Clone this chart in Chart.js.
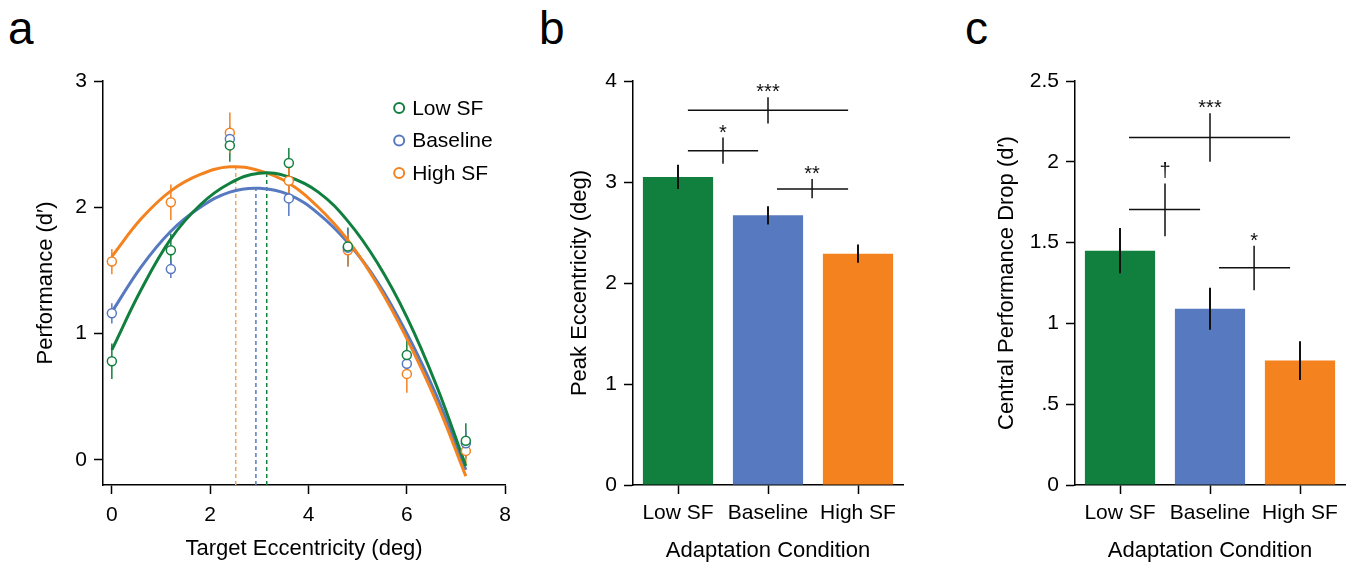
<!DOCTYPE html>
<html>
<head>
<meta charset="utf-8">
<script src="https://cdn.jsdelivr.net/npm/chart.js@4.4.0/dist/chart.umd.min.js"></script>
<style>
body { margin: 0; background: #fff; width: 1351px; height: 565px; overflow: hidden; position: relative;
       font-family: 'Liberation Sans', Arial, sans-serif; }
.panel { position: absolute; top: 0; height: 565px; }
.letter { position: absolute; top: 5px; font-size: 46px; line-height: 1; color: #000; }
</style>
</head>
<body>
<div class="letter" style="left:8px">a</div>
<div class="letter" style="left:539px">b</div>
<div class="letter" style="left:965px">c</div>
<div class="panel" style="left:0;width:520px"><canvas id="chartA"></canvas></div>
<div class="panel" style="left:520px;width:420px"><canvas id="chartB"></canvas></div>
<div class="panel" style="left:940px;width:411px"><canvas id="chartC"></canvas></div>
<script>
// panel a: performance by target eccentricity
var ECC = [0, 1.2, 2.4, 3.6, 4.8, 6, 7.2];
var lowSF = [0.78, 1.66, 2.49, 2.35, 1.69, 0.83, 0.15];
var lowSFErr = [0.14, 0.13, 0.13, 0.12, 0.15, 0.16, 0.14];
var baseline = [1.16, 1.51, 2.54, 2.07, 1.68, 0.76, 0.13];
var baselineErr = [0.08, 0.07, 0.1, 0.14, 0.15, 0.1, 0.1];
var highSF = [1.57, 2.04, 2.59, 2.21, 1.66, 0.68, 0.07];
var highSFErr = [0.1, 0.14, 0.16, 0.12, 0.13, 0.15, 0.1];

// fitted curves
var FIT_X = [0, 0.6, 1.2, 1.8, 2.4, 3.0, 3.6, 4.2, 4.8, 5.4, 6.0, 6.6, 7.2];
var lowSFFit = [0.87, 1.35, 1.75, 2.02, 2.19, 2.27, 2.24, 2.12, 1.89, 1.56, 1.13, 0.59, -0.05];
var baselineFit = [1.17, 1.53, 1.81, 2.00, 2.12, 2.15, 2.10, 1.95, 1.72, 1.41, 1.00, 0.51, -0.08];
var highSFFit = [1.61, 1.91, 2.13, 2.26, 2.32, 2.29, 2.19, 2.00, 1.74, 1.39, 0.96, 0.46, -0.13];
// peak of each fit (green, blue, orange)
var PEAK_X = [3.15, 2.93, 2.52];
var PEAK_Y = [2.27, 2.15, 2.32];

var xTicksA = [0, 2, 4, 6, 8];
var yTicksA = [0, 1, 2, 3];

// panels b and c
var CONDITIONS = ['Low SF', 'Baseline', 'High SF'];
var peakEcc = [3.05, 2.67, 2.29];
var peakEccErr = [0.12, 0.09, 0.09];
var perfDrop = [1.45, 1.09, 0.77];
var perfDropErr = [0.14, 0.13, 0.12];
var yTicksB = [0, 1, 2, 3, 4];
var yLabelsB = ['0', '1', '2', '3', '4'];
var yTicksC = [0, 0.5, 1, 1.5, 2, 2.5];
var yLabelsC = ['0', '.5', '1', '1.5', '2', '2.5'];

// significance marks: [from, to, at, y, lo, hi, label] in category units
var sigB = [
    [0.11, 1.89, 1.0, 3.71, 3.58, 3.84, '***'],
    [0.11, 0.89, 0.5, 3.31, 3.18, 3.44, '*'],
    [1.10, 1.89, 1.49, 2.93, 2.84, 3.03, '**']
];
var sigC = [
    [0.10, 1.89, 1.0, 2.15, 2.0, 2.30, '***'],
    [0.10, 0.89, 0.5, 1.705, 1.54, 1.866, '\u2020'],
    [1.10, 1.89, 1.49, 1.345, 1.205, 1.48, '*']
];

var GREEN = '#11803f';
var BLUE = '#5679c0';
var ORANGE = '#f4821f';
var FONT = "'Liberation Sans', Arial, sans-serif";
var TICK_SIZE = 21;
var TITLE_SIZE = 22;

Chart.defaults.font.family = FONT;
Chart.defaults.color = '#000';
Chart.defaults.animation = false;

function pts(xs, ys) {
    return xs.map(function (x, i) { return { x: x, y: ys[i] }; });
}

function axisGrid() {
    return { display: true, drawOnChartArea: false, drawTicks: true, tickLength: 9, tickColor: '#000', tickWidth: 1.5, offset: false };
}
var axisBorder = { display: true, color: '#000', width: 1.5 };

var pointErrors = {
    id: 'pointErrors',
    beforeDatasetsDraw: function (chart) {
        var ctx = chart.ctx, xs = chart.scales.x, ys = chart.scales.y;
        var sets = [[lowSF, lowSFErr, GREEN], [baseline, baselineErr, BLUE], [highSF, highSFErr, ORANGE]];
        ctx.save();
        ctx.lineWidth = 1.5;
        sets.forEach(function (s) {
            ctx.strokeStyle = s[2];
            ECC.forEach(function (e, i) {
                var px = xs.getPixelForValue(e);
                ctx.beginPath();
                ctx.moveTo(px, ys.getPixelForValue(s[0][i] - s[1][i]));
                ctx.lineTo(px, ys.getPixelForValue(s[0][i] + s[1][i]));
                ctx.stroke();
            });
        });
        ctx.restore();
    },
    afterDraw: function (chart) {
        // legend, top right of the plot
        var ctx = chart.ctx, area = chart.chartArea;
        ctx.save();
        ctx.font = TICK_SIZE + 'px ' + FONT;
        ctx.textBaseline = 'middle';
        for (var i = 0; i < 3; i++) {
            var ds = chart.data.datasets[i];
            var y = area.top + 27 + i * 32.5;
            var x = area.right - 106;
            ctx.beginPath();
            ctx.arc(x, y, 5, 0, Math.PI * 2);
            ctx.fillStyle = '#fff';
            ctx.fill();
            ctx.lineWidth = 2;
            ctx.strokeStyle = ds.borderColor;
            ctx.stroke();
            ctx.fillStyle = '#000';
            ctx.fillText(ds.label, x + 13, y + 1);
        }
        ctx.restore();
    }
};

function barMarks(values, errs, sigs) {
    return {
        id: 'barMarks',
        afterDatasetsDraw: function (chart) {
            var ctx = chart.ctx, xs = chart.scales.x, ys = chart.scales.y;
            ctx.save();
            ctx.strokeStyle = '#111';
            ctx.lineWidth = 2;
            values.forEach(function (v, i) {
                var px = xs.getPixelForValue(i);
                ctx.beginPath();
                ctx.moveTo(px, ys.getPixelForValue(v - errs[i]));
                ctx.lineTo(px, ys.getPixelForValue(v + errs[i]));
                ctx.stroke();
            });
            ctx.lineWidth = 1.5;
            ctx.font = '20px ' + FONT;
            ctx.textAlign = 'center';
            ctx.fillStyle = '#111';
            sigs.forEach(function (s) {
                var y = ys.getPixelForValue(s[3]);
                var xm = xs.getPixelForValue(s[2]);
                ctx.beginPath();
                ctx.moveTo(xs.getPixelForValue(s[0]), y);
                ctx.lineTo(xs.getPixelForValue(s[1]), y);
                ctx.moveTo(xm, ys.getPixelForValue(s[4]));
                ctx.lineTo(xm, ys.getPixelForValue(s[5]));
                ctx.stroke();
                var m = ctx.measureText(s[6]);
                var top = ys.getPixelForValue(s[5]);
                ctx.fillText(s[6], xm, top - 5 - m.actualBoundingBoxDescent);
            });
            ctx.restore();
        }
    };
}

new Chart(document.getElementById('chartA'), {
    type: 'scatter',
    data: {
        datasets: [
            { label: 'Low SF', data: pts(ECC, lowSF), borderColor: GREEN, backgroundColor: '#fff', pointRadius: 4.5, borderWidth: 1.5 },
            { label: 'Baseline', data: pts(ECC, baseline), borderColor: BLUE, backgroundColor: '#fff', pointRadius: 4.5, borderWidth: 1.5 },
            { label: 'High SF', data: pts(ECC, highSF), borderColor: ORANGE, backgroundColor: '#fff', pointRadius: 4.5, borderWidth: 1.5 },
            { label: 'Low SF fit', data: pts(FIT_X, lowSFFit), showLine: true, tension: 0.4, borderColor: GREEN, borderWidth: 3, pointRadius: 0 },
            { label: 'High SF fit', data: pts(FIT_X, highSFFit), showLine: true, tension: 0.4, borderColor: ORANGE, borderWidth: 3, pointRadius: 0 },
            { label: 'Baseline fit', data: pts(FIT_X, baselineFit), showLine: true, tension: 0.4, borderColor: BLUE, borderWidth: 3, pointRadius: 0 },
            { label: 'Low SF peak', data: [{ x: PEAK_X[0], y: -0.2 }, { x: PEAK_X[0], y: PEAK_Y[0] }], showLine: true, borderColor: GREEN, borderWidth: 1.5, borderDash: [4, 3], pointRadius: 0 },
            { label: 'Baseline peak', data: [{ x: PEAK_X[1], y: -0.2 }, { x: PEAK_X[1], y: PEAK_Y[1] }], showLine: true, borderColor: BLUE, borderWidth: 1.5, borderDash: [4, 3], pointRadius: 0 },
            { label: 'High SF peak', data: [{ x: PEAK_X[2], y: -0.2 }, { x: PEAK_X[2], y: PEAK_Y[2] }], showLine: true, borderColor: '#f6a25a', borderWidth: 1.5, borderDash: [4, 3], pointRadius: 0 }
        ]
    },
    options: {
        responsive: true,
        maintainAspectRatio: false,
        layout: { padding: { left: 0, right: 14, top: 81, bottom: 0 } },
        plugins: { legend: { display: false }, tooltip: { enabled: false } },
        scales: {
            x: {
                type: 'linear', min: -0.18, max: 8,
                afterBuildTicks: function (s) { s.ticks = xTicksA.map(function (v) { return { value: v }; }); },
                afterFit: function (s) { s.height = 80; },
                grid: axisGrid(), border: axisBorder,
                ticks: { font: { size: TICK_SIZE }, padding: 9, color: '#000', maxRotation: 0 },
                title: { display: true, text: 'Target Eccentricity (deg)', font: { size: TITLE_SIZE }, padding: { bottom: 3 } }
            },
            y: {
                min: -0.2, max: 3,
                afterBuildTicks: function (s) { s.ticks = yTicksA.map(function (v) { return { value: v }; }); },
                afterFit: function (s) { s.width = 103; },
                grid: axisGrid(), border: axisBorder,
                ticks: { font: { size: TICK_SIZE }, padding: 7, color: '#000' },
                title: { display: true, text: 'Performance (d\u2032)', font: { size: TITLE_SIZE }, padding: { top: 33 } }
            }
        }
    },
    plugins: [pointErrors]
});

function barChart(id, values, errs, sigs, yMax, yTicks, yLabels, yTitle, yWidth, titlePad, rightPad) {
    new Chart(document.getElementById(id), {
        type: 'bar',
        data: {
            labels: CONDITIONS,
            datasets: [{
                data: values,
                backgroundColor: [GREEN, BLUE, ORANGE],
                categoryPercentage: 1,
                barPercentage: 0.78
            }]
        },
        options: {
            responsive: true,
            maintainAspectRatio: false,
            layout: { padding: { left: 0, right: rightPad, top: 81, bottom: 0 } },
            plugins: { legend: { display: false }, tooltip: { enabled: false } },
            scales: {
                x: {
                    afterFit: function (s) { s.height = 80; },
                    grid: axisGrid(), border: axisBorder,
                    ticks: { font: { size: TICK_SIZE }, padding: 7, color: '#000', maxRotation: 0, autoSkip: false },
                    title: { display: true, text: 'Adaptation Condition', font: { size: TITLE_SIZE }, padding: { bottom: 1 } }
                },
                y: {
                    min: 0, max: yMax,
                    afterBuildTicks: function (s) { s.ticks = yTicks.map(function (v) { return { value: v }; }); },
                    afterFit: function (s) { s.width = yWidth; },
                    grid: axisGrid(), border: axisBorder,
                    ticks: {
                        font: { size: TICK_SIZE }, padding: 7, color: '#000',
                        callback: function (v) { return yLabels[yTicks.indexOf(v)]; }
                    },
                    title: { display: true, text: yTitle, font: { size: TITLE_SIZE }, padding: { top: titlePad } }
                }
            }
        },
        plugins: [barMarks(values, errs, sigs)]
    });
}

barChart('chartB', peakEcc, peakEccErr, sigB, 4, yTicksB, yLabelsB, 'Peak Eccentricity (deg)', 113, 47, 37);
barChart('chartC', perfDrop, perfDropErr, sigC, 2.5, yTicksC, yLabelsC, 'Central Performance Drop (d\u2032)', 135, 54, 6);
</script>
</body>
</html>
